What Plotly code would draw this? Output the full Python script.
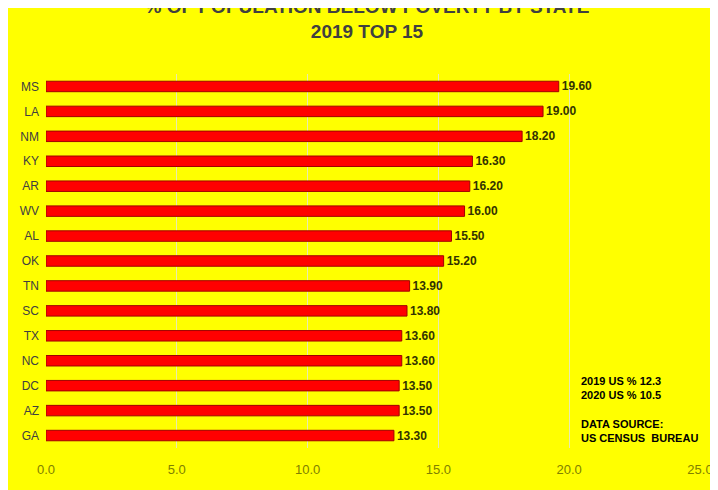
import plotly.graph_objects as go


class PovertyChart:
    def __init__(self, states, values):
        self.states = states
        self.values = values

    def build_figure(self):
        fig = go.Figure()
        fig.add_trace(go.Bar(x=self.values, y=self.states, orientation='h',
                             marker=dict(color='#FF0000', line=dict(color='#A00000', width=1)),
                             width=0.42,
                             text=[f"<b>{v:.2f}</b>" for v in self.values],
                             textposition="outside", constraintext="none",
                             textfont=dict(family="Liberation Sans", size=12, color='#333300'),
                             cliponaxis=False))

        fig.add_annotation(x=0.815, y=0.2, xref="paper", yref="paper", xanchor="left", yanchor="top",
                           showarrow=False, align="left",
                           text="<b>2019 US % 12.3<br>2020 US % 10.5<br><br>DATA SOURCE:<br>US CENSUS  BUREAU</b>",
                           font=dict(family="Liberation Sans", size=11, color='#000000'))

        fig.update_layout(title=dict(text="<b>% OF POPULATION BELOW POVERTY BY STATE<br>2019 TOP 15</b>",
                                     x=0.5, y=0.99, xanchor="center", yanchor="top",
                                     font=dict(family="Liberation Sans", size=19, color='#404040')),
                          width=718, height=490,
                          paper_bgcolor='#FFFF00', plot_bgcolor='#FFFF00',
                          showlegend=False,
                          margin=dict(l=38, r=26, t=66, b=50),
                          font=dict(family="Liberation Sans", size=12),
                          xaxis=dict(range=[0, 25], dtick=5, tickformat=".1f", showgrid=True,
                                     gridcolor='#E8E8B0', zeroline=False, ticklen=0,
                                     tickfont=dict(color='#808000', size=13), ticklabelstandoff=12),
                          yaxis=dict(autorange="reversed", showgrid=False, ticks="",
                                     tickfont=dict(color='#404040', size=12), ticklabelstandoff=6))
        return fig


states = ["MS", "LA", "NM", "KY", "AR", "WV", "AL", "OK", "TN", "SC", "TX", "NC", "DC", "AZ", "GA"]
values = [19.6, 19.0, 18.2, 16.3, 16.2, 16.0, 15.5, 15.2, 13.9, 13.8, 13.6, 13.6, 13.5, 13.5, 13.3]

chart = PovertyChart(states, values)
fig = chart.build_figure()
fig.write_html("out.html")
